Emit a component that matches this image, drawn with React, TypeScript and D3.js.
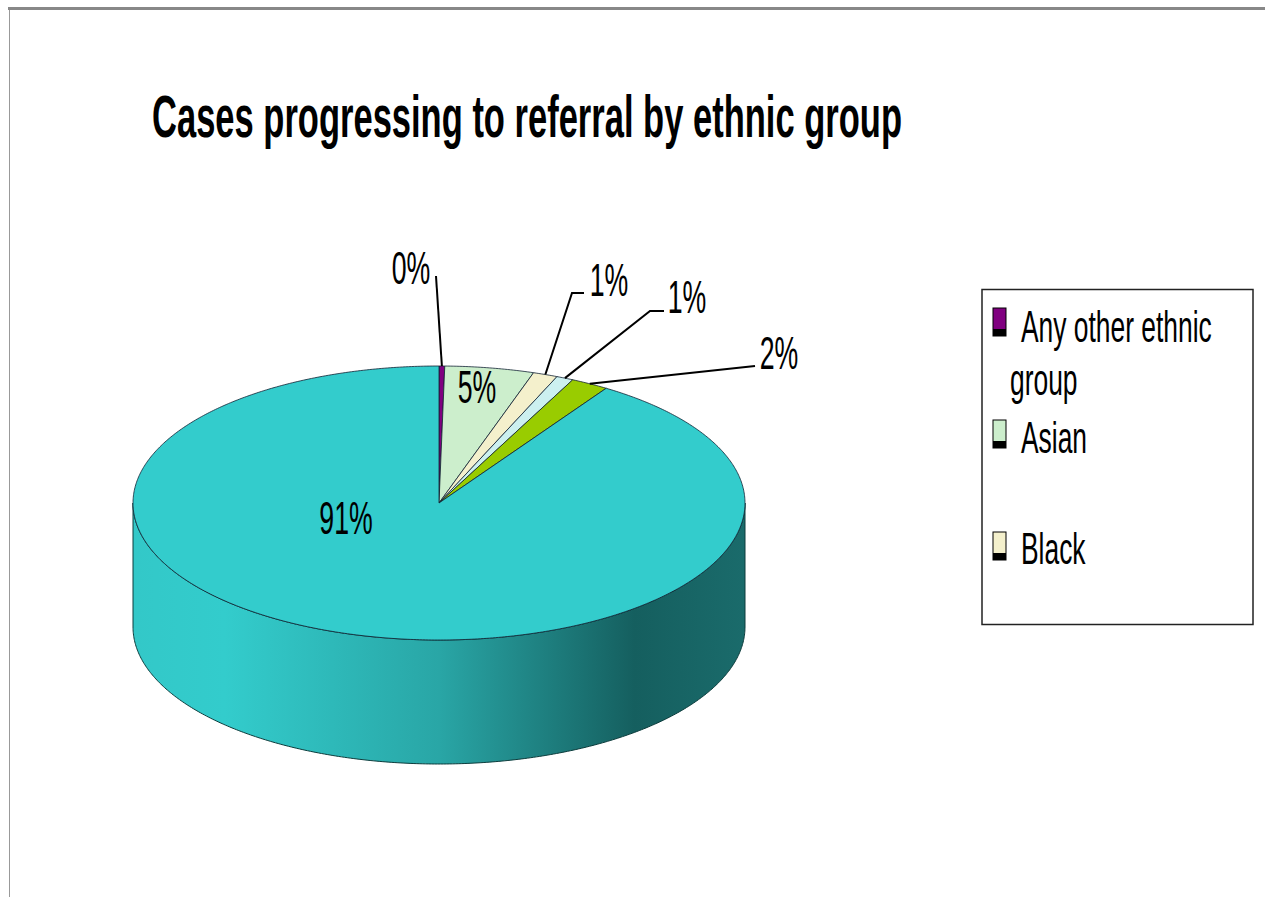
import React, { useLayoutEffect, useRef, useState } from "react";
import * as d3 from "d3";

const categories = ["Any other ethnic group", "Asian", "Black", "Mixed", "Other", "White"];
const values = [0.3, 4.7, 1.3, 0.9, 2.0, 90.8];
const colors = ["#800080", "#CCEECC", "#F4F0CC", "#CCF0F0", "#99CC00", "#33CCCC"];
const legendShown = ["Any other ethnic group", "Asian", "Black"];
const title = "Cases progressing to referral by ethnic group";

const W = 1268;
const H = 897;
const cx = 439;
const cy = 503;
const rx = 306;
const ry = 137;
const depth = 124;

const labelLayout: { x: number; y: number; leader: number[][] | null }[] = [
  { x: 411, y: 284, leader: [[436, 276]] },
  { x: 477, y: 403, leader: null },
  { x: 609, y: 296, leader: [[572, 293], [584, 293]] },
  { x: 687, y: 313, leader: [[650, 311], [664, 311]] },
  { x: 779, y: 369, leader: [[755, 366]] },
  { x: 346, y: 534, leader: null },
];

function pt(a: number, dy = 0): [number, number] {
  return [cx + rx * Math.sin(a), cy - ry * Math.cos(a) + dy];
}

function sample(a0: number, a1: number, dy = 0): [number, number][] {
  const n = Math.max(2, Math.ceil(Math.abs(a1 - a0) / 0.01));
  const out: [number, number][] = [];
  for (let i = 0; i <= n; i++) out.push(pt(a0 + ((a1 - a0) * i) / n, dy));
  return out;
}

export default function App() {
  const titleRef = useRef<SVGTextElement>(null);
  const [titleScale, setTitleScale] = useState(0.72);
  useLayoutEffect(() => {
    if (titleRef.current) {
      const natural = titleRef.current.getComputedTextLength();
      if (natural > 0) setTitleScale(750 / natural);
    }
  }, []);

  const pie = d3.pie<number>().sort(null).startAngle(0).endAngle(2 * Math.PI);
  const arcs = pie(values);
  const line = d3.line();

  const sides = arcs
    .map((a, i) => {
      const s = Math.max(a.startAngle, Math.PI / 2);
      const e = Math.min(a.endAngle, (3 * Math.PI) / 2);
      if (e <= s) return null;
      const top = sample(s, e);
      const bot = sample(e, s, depth);
      return { i, d: line([...top, ...bot])! + "Z" };
    })
    .filter(Boolean) as { i: number; d: string }[];

  const total = d3.sum(values);

  return (
    <svg width={W} height={H} style={{ display: "block", position: "absolute", left: 0, top: 0 }}>
      <defs>
        <linearGradient id="sideGrad" gradientUnits="userSpaceOnUse" x1={cx - rx} x2={cx + rx} y1={0} y2={0}>
          <stop offset="0" stopColor="#33C8C8" />
          <stop offset="0.15" stopColor="#33CCCC" />
          <stop offset="0.5" stopColor="#29A6A6" />
          <stop offset="0.82" stopColor="#155F5F" />
          <stop offset="1" stopColor="#1A6B6B" />
        </linearGradient>
      </defs>
      <rect x={0} y={0} width={W} height={H} fill="#fff" />
      <rect x={8} y={7} width={1257} height={3} fill="#888" />
      <line x1={9.5} y1={10} x2={9.5} y2={H} stroke="#999" strokeWidth={1} />

      <text
        ref={titleRef}
        transform={`translate(152,137) scale(${titleScale},1)`}
        fontFamily="Liberation Sans, Arial, sans-serif"
        fontWeight="bold"
        fontSize={60}
        fill="#000"
      >
        {title}
      </text>

      {sides.map((s) => (
        <path key={"side" + s.i} d={s.d} fill="url(#sideGrad)" stroke="#0c3c3c" strokeWidth={1} />
      ))}

      {arcs.map((a, i) => {
        const pts = [[cx, cy] as [number, number], ...sample(a.startAngle, a.endAngle)];
        return (
          <path
            key={"top" + i}
            d={line(pts)! + "Z"}
            fill={colors[i]}
            stroke="#123"
            strokeWidth={0.8}
            strokeLinejoin="round"
          />
        );
      })}

      {arcs.map((a, i) => {
        const L = labelLayout[i];
        const mid = (a.startAngle + a.endAngle) / 2;
        const pct = Math.round((values[i] / total) * 100) + "%";
        const start = pt(mid);
        const lead = L.leader ? [start, ...L.leader] : null;
        return (
          <g key={"lab" + i}>
            {lead && <path d={line(lead as [number, number][])!} fill="none" stroke="#000" strokeWidth={2} />}
            <text
              transform={`translate(${L.x},${L.y}) scale(0.58,1)`}
              textAnchor="middle"
              fontFamily="Liberation Sans, Arial, sans-serif"
              fontSize={46}
              fill="#000"
            >
              {pct}
            </text>
          </g>
        );
      })}

      <rect x={982} y={289.5} width={271} height={335} fill="#fff" stroke="#222" strokeWidth={1.5} />
      {legendShown.map((name, k) => {
        const i = categories.indexOf(name);
        const ys = [308, 420, 532];
        const y = ys[k];
        return (
          <g key={"leg" + k}>
            <rect x={993} y={y} width={13} height={28} fill={colors[i]} stroke="#000" strokeWidth={1} />
            <rect x={993} y={y + 21} width={13} height={7} fill="#000" />
          </g>
        );
      })}
      {[
        { t: "Any other ethnic", x: 1021, y: 342 },
        { t: "group", x: 1010, y: 395 },
        { t: "Asian", x: 1021, y: 453 },
        { t: "Black", x: 1021, y: 564 },
      ].map((r, k) => (
        <text
          key={"lt" + k}
          transform={`translate(${r.x},${r.y}) scale(0.6,1)`}
          fontFamily="Liberation Sans, Arial, sans-serif"
          fontSize={44}
          fill="#000"
        >
          {r.t}
        </text>
      ))}
    </svg>
  );
}
